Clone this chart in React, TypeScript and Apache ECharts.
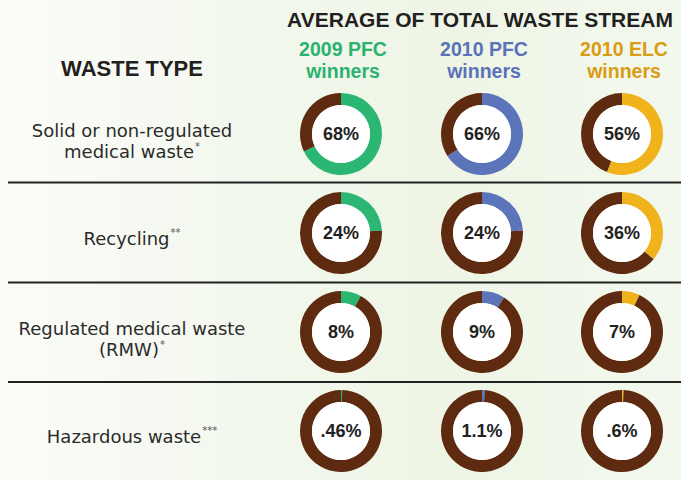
import React, { useEffect, useRef } from "react";
import * as echarts from "echarts";

const wasteTypes = [
  "Solid or non-regulated\nmedical waste",
  "Recycling",
  "Regulated medical waste\n(RMW)",
  "Hazardous waste",
];
const footnotes = ["*", "**", "*", "***"];
const groups = ["2009 PFC", "2010 PFC", "2010 ELC"];
const pfc2009 = [68, 24, 8, 0.46];
const pfc2010 = [66, 24, 9, 1.1];
const elc2010 = [56, 36, 7, 0.6];
const pfc2009Labels = ["68%", "24%", "8%", ".46%"];
const pfc2010Labels = ["66%", "24%", "9%", "1.1%"];
const elc2010Labels = ["56%", "36%", "7%", ".6%"];

const groupValues = [pfc2009, pfc2010, elc2010];
const groupLabels = [pfc2009Labels, pfc2010Labels, elc2010Labels];
const ringColors = ["#2bb673", "#5b74ba", "#f1b31c"];
const textColors = ["#2bb270", "#5a72b8", "#d99c14"];
const brown = "#5e2b10";

const colX = [341, 482, 622];
const rowY = [134, 233, 332, 431];
const sepY = [182.5, 282.5, 382];

export default function App() {
  const ref = useRef<HTMLDivElement>(null);
  useEffect(() => {
    if (!ref.current) return;
    const chart = echarts.init(ref.current, undefined, { renderer: "svg" });
    const series: any[] = [];
    groups.forEach((g, gi) => {
      wasteTypes.forEach((w, ri) => {
        const v = groupValues[gi][ri];
        series.push({
          type: "pie",
          silent: true,
          center: [colX[gi], rowY[ri]],
          radius: [29, 41],
          startAngle: 90,
          clockwise: true,
          avoidLabelOverlap: false,
          label: { show: false },
          labelLine: { show: false },
          itemStyle: { borderWidth: 0 },
          emphasis: { disabled: true },
          data: [
            { name: g, value: v, itemStyle: { color: ringColors[gi] } },
            { name: "other", value: 100 - v, itemStyle: { color: brown } },
          ],
        });
        series.push({
          type: "pie",
          silent: true,
          center: [colX[gi], rowY[ri]],
          radius: [0, 29],
          label: {
            show: true,
            position: "center",
            formatter: () => groupLabels[gi][ri],
            fontFamily: "Liberation Sans",
            fontWeight: "bold",
            fontSize: 18,
            color: "#222",
          },
          labelLine: { show: false },
          emphasis: { disabled: true },
          itemStyle: { color: "#ffffff", borderWidth: 0 },
          data: [{ name: w, value: 1 }],
        });
      });
    });

    const graphics: any[] = [];
    graphics.push({
      type: "text",
      x: 480,
      y: 19,
      style: {
        text: "AVERAGE OF TOTAL WASTE STREAM",
        fontFamily: "Liberation Sans",
        fontWeight: "bold",
        fontSize: 21,
        fill: "#231f20",
        textAlign: "center",
        textVerticalAlign: "middle",
      },
    });
    graphics.push({
      type: "text",
      x: 132,
      y: 68,
      style: {
        text: "WASTE TYPE",
        fontFamily: "Liberation Sans",
        fontWeight: "bold",
        fontSize: 22,
        fill: "#231f20",
        textAlign: "center",
        textVerticalAlign: "middle",
      },
    });
    groups.forEach((g, gi) => {
      graphics.push({
        type: "text",
        x: colX[gi] + 2,
        y: 60,
        style: {
          text: g + "\nwinners",
          fontFamily: "Liberation Sans",
          fontWeight: "bold",
          fontSize: 19.5,
          lineHeight: 22,
          fill: textColors[gi],
          textAlign: "center",
          textVerticalAlign: "middle",
        },
      });
    });
    wasteTypes.forEach((w, ri) => {
      const lines = w.split("\n");
      const txt = lines
        .map((l, li) => "{n|" + l + "}" + (li === lines.length - 1 ? "{s|" + footnotes[ri] + "}" : ""))
        .join("\n");
      graphics.push({
        type: "text",
        x: 132,
        y: rowY[ri] + (lines.length > 1 ? 7 : 5),
        style: {
          text: txt,
          textAlign: "center",
          textVerticalAlign: "middle",
          rich: {
            n: {
              fontFamily: "DejaVu Sans",
              fontSize: 18,
              lineHeight: 21,
              fill: "#2b2b2b",
            },
            s: {
              fontFamily: "DejaVu Sans",
              fontSize: 10,
              lineHeight: 21,
              verticalAlign: "top",
              fill: "#555",
              padding: [0, 0, 0, 1],
            },
          },
        },
      });
    });
    sepY.forEach((y) => {
      graphics.push({
        type: "line",
        shape: { x1: 8, y1: y, x2: 681, y2: y },
        style: { stroke: "#222", lineWidth: 2 },
      });
    });

    chart.setOption({
      animation: false,
      series,
      graphic: graphics,
    });
    return () => chart.dispose();
  }, []);

  return (
    <div
      style={{
        position: "absolute",
        left: 0,
        top: 0,
        width: 681,
        height: 480,
        background: "linear-gradient(90deg, #fbfcf8 0%, #f3f8ee 35%, #eef5e5 65%, #f3f8ee 100%)",
      }}
    >
      <div ref={ref} style={{ width: 681, height: 480 }} />
    </div>
  );
}
